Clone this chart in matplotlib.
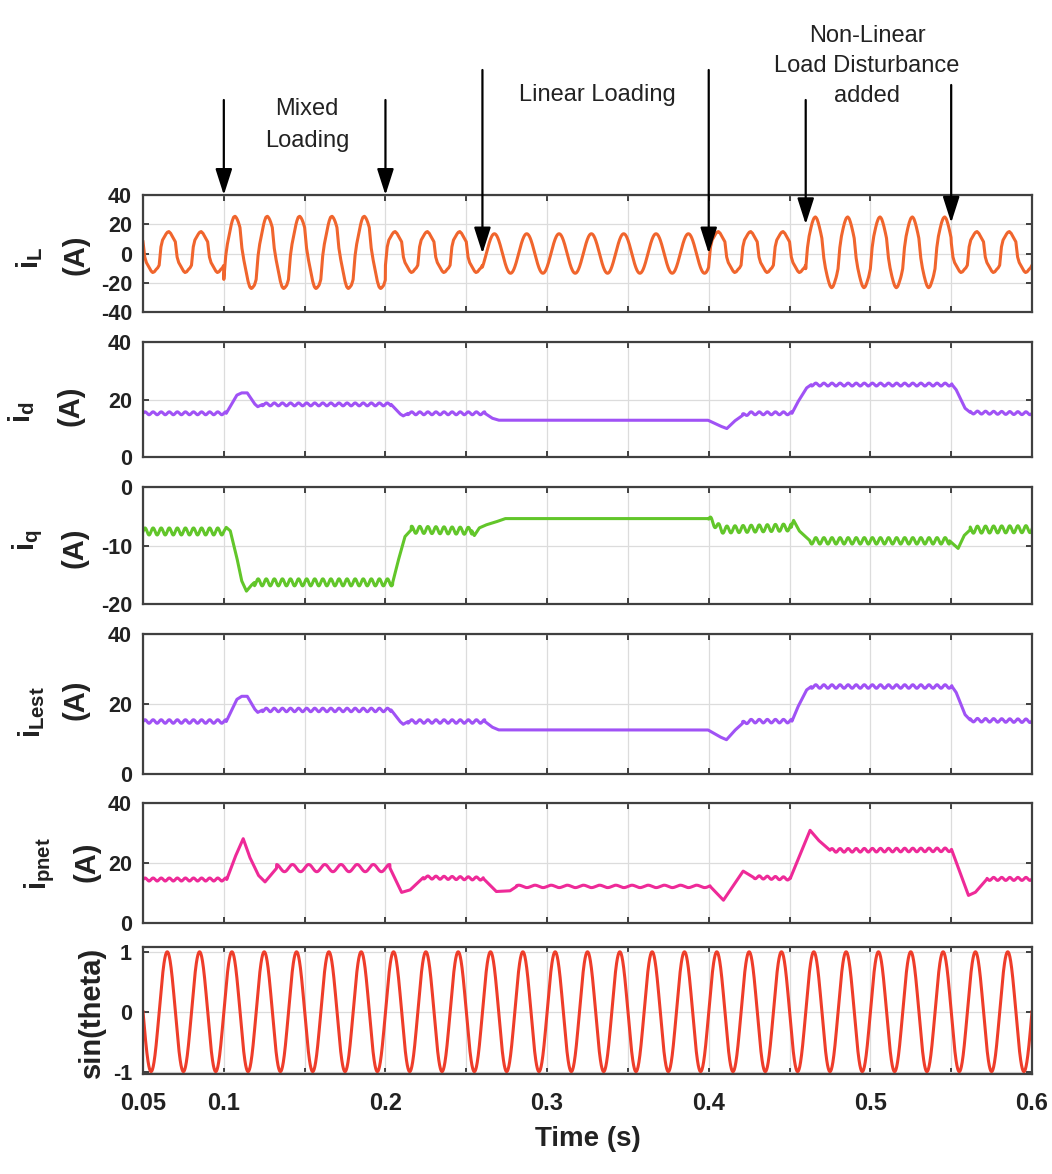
import numpy as np
import matplotlib
matplotlib.use("Agg")
import matplotlib.pyplot as plt
from matplotlib.ticker import FixedLocator, FixedFormatter

plt.rcParams["font.family"] = ["Liberation Sans", "DejaVu Sans"]
plt.rcParams["mathtext.fontset"] = "custom"
plt.rcParams["mathtext.rm"] = "Liberation Sans:bold"
plt.rcParams["mathtext.it"] = "Liberation Sans:bold"
plt.rcParams["mathtext.bf"] = "Liberation Sans:bold"

# ---- data -------------------------------------------------------------
T_START, T_END, DT = 0.05, 0.60, 0.0001
F_GRID = 50.0          # supply frequency (Hz)
SIN_AMP = 1.0

# rectifier load current over one cycle, 1 ms steps from the voltage zero crossing (A)
nl_shape = [-8, 4, 9, 11, 13, 14.5, 15, 14, 12, 10, 8, -2, -6, -8, -10, -12, -13, -12.5, -11, -10]

# loading intervals: nonlinear share, linear load peak (A) and its lag (ms)
load_edges = [0.05, 0.10, 0.20, 0.26, 0.40, 0.46, 0.55, 0.60]
nl_weight = [1.0, 1.0, 1.0, 0.0, 1.0, 0.8, 1.0]
lin_amp = [0.0, 12.0, 0.0, 13.5, 0.0, 13.0, 0.0]
lin_lag_ms = [0.0, 3.0, 0.0, 2.4, 0.0, 1.0, 0.0]

# d-axis current (A)
id_t = [0.05, 0.1015, 0.108, 0.111, 0.1145, 0.119, 0.121, 0.124, 0.2035, 0.209, 0.211,
        0.214, 0.2615, 0.266, 0.27, 0.3995, 0.407, 0.4112, 0.416, 0.421, 0.425, 0.4515,
        0.455, 0.4605, 0.4635, 0.5505, 0.553, 0.5585, 0.5618, 0.60]
id_v = [15.2, 15.2, 21.5, 22.3, 22.3, 18.5, 17.5, 18.3, 18.3, 15.0, 14.3,
        15.2, 15.2, 13.5, 12.8, 12.8, 10.8, 9.9, 12.5, 14.5, 15.2, 15.2,
        19.0, 24.0, 25.2, 25.2, 23.5, 17.0, 15.5, 15.2]
id_rip_edges = [0.05, 0.1015, 0.124, 0.2035, 0.214, 0.2615, 0.421, 0.4515, 0.4635, 0.5505, 0.5618, 0.60]
id_rip_amp = [0.5, 0.0, 0.5, 0.0, 0.5, 0.0, 0.5, 0.0, 0.5, 0.0, 0.5]
id_rip_freq = [200] * 11

# q-axis current (A)
iq_t = [0.05, 0.10, 0.1015, 0.104, 0.108, 0.111, 0.114, 0.117, 0.119, 0.2045, 0.2075,
        0.212, 0.216, 0.2535, 0.255, 0.258, 0.262, 0.268, 0.274, 0.3996, 0.405, 0.408,
        0.451, 0.4525, 0.456, 0.4627, 0.549, 0.5543, 0.558, 0.5618, 0.60]
iq_v = [-7.6, -7.6, -6.9, -7.5, -12.0, -16.0, -17.8, -16.8, -16.3, -16.3, -13.0,
        -8.5, -7.3, -7.5, -8.3, -7.0, -6.5, -6.0, -5.4, -5.4, -6.6, -7.3,
        -6.9, -5.7, -7.5, -9.2, -9.2, -10.5, -8.3, -7.3, -7.2]
iq_rip_edges = [0.05, 0.10, 0.119, 0.2045, 0.216, 0.2535, 0.40, 0.451, 0.4627, 0.549, 0.5618, 0.60]
iq_rip_amp = [0.6, 0.0, 0.6, 0.0, 0.6, 0.0, 0.6, 0.0, 0.55, 0.0, 0.6]
iq_rip_freq = [200] * 11

# estimated load current magnitude (A)
ilest_t = [0.05, 0.1015, 0.108, 0.111, 0.1145, 0.119, 0.121, 0.124, 0.2035, 0.209, 0.211,
           0.214, 0.2615, 0.266, 0.27, 0.3995, 0.407, 0.411, 0.416, 0.421, 0.425, 0.4515,
           0.455, 0.4605, 0.4635, 0.5505, 0.553, 0.5585, 0.5618, 0.60]
ilest_v = [15.0, 15.0, 21.3, 22.2, 22.2, 18.6, 17.6, 18.3, 18.3, 15.0, 14.2,
           15.0, 15.0, 13.4, 12.6, 12.6, 10.6, 9.8, 12.4, 14.5, 15.1, 15.1,
           19.0, 24.0, 25.0, 25.0, 23.4, 17.0, 15.4, 15.2]
ilest_rip_edges = id_rip_edges
ilest_rip_amp = [0.5, 0.0, 0.5, 0.0, 0.5, 0.0, 0.5, 0.0, 0.5, 0.0, 0.5]
ilest_rip_freq = [200] * 11

# net active current reference (A)
ipnet_t = [0.05, 0.1018, 0.107, 0.112, 0.116, 0.1214, 0.1255, 0.1327, 0.2028, 0.21, 0.2152,
           0.2235, 0.2606, 0.2686, 0.277, 0.2812, 0.4009, 0.4091, 0.4213, 0.4275, 0.4504,
           0.4627, 0.4679, 0.4751, 0.5503, 0.5607, 0.5649, 0.5722, 0.60]
ipnet_v = [14.5, 14.5, 22.0, 28.1, 22.0, 15.9, 13.7, 18.3, 18.3, 10.2, 11.0,
           15.2, 14.8, 10.5, 10.7, 12.2, 12.2, 7.6, 17.3, 15.3, 14.8,
           30.9, 27.6, 24.2, 24.4, 9.2, 10.2, 14.7, 14.7]
ipnet_rip_edges = [0.05, 0.1018, 0.1327, 0.2028, 0.2235, 0.2606, 0.2812, 0.4009, 0.4275, 0.4504,
                   0.4751, 0.5503, 0.5722, 0.60]
ipnet_rip_amp = [0.5, 0.0, 1.2, 0.0, 0.5, 0.0, 0.4, 0.0, 0.5, 0.0, 0.6, 0.0, 0.5]
ipnet_rip_freq = [200, 200, 100, 200, 200, 200, 100, 200, 200, 200, 200, 200, 200]

x_ticks = [0.05, 0.10, 0.15, 0.20, 0.25, 0.30, 0.35, 0.40, 0.45, 0.50, 0.55, 0.60]
x_tick_labels = ["0.05", "0.1", "", "0.2", "", "0.3", "", "0.4", "", "0.5", "", "0.6"]

# ---- signals -------------------------------------------------------------
t = np.arange(T_START, T_END + DT / 2, DT)


def ripple(edges, amps, freqs):
    out = np.zeros_like(t)
    for lo, hi, a, f in zip(edges[:-1], edges[1:], amps, freqs):
        m = (t >= lo) & (t <= hi)
        out[m] = a * np.sin(2 * np.pi * f * t[m])
    return out


phase_ms = np.mod(t * 1000.0, 1000.0 / F_GRID)
nl_part = np.interp(phase_ms, np.arange(len(nl_shape) + 1), nl_shape + [nl_shape[0]])
seg = np.clip(np.searchsorted(load_edges, t, side="right") - 1, 0, len(nl_weight) - 1)
i_load = (np.array(nl_weight)[seg] * nl_part
          + np.array(lin_amp)[seg]
          * np.sin(2 * np.pi * F_GRID * (t - np.array(lin_lag_ms)[seg] / 1000.0)))

i_d = np.interp(t, id_t, id_v) + ripple(id_rip_edges, id_rip_amp, id_rip_freq)
i_q = np.interp(t, iq_t, iq_v) + ripple(iq_rip_edges, iq_rip_amp, iq_rip_freq)
i_lest = np.interp(t, ilest_t, ilest_v) + ripple(ilest_rip_edges, ilest_rip_amp, ilest_rip_freq)
i_pnet = np.interp(t, ipnet_t, ipnet_v) + ripple(ipnet_rip_edges, ipnet_rip_amp, ipnet_rip_freq)
sin_theta = SIN_AMP * np.sin(2 * np.pi * F_GRID * t)

# ---- figure ---------------------------------------------------------------
W, H = 1052, 1174
fig = plt.figure(figsize=(W / 100, H / 100), dpi=100)
fig.patch.set_facecolor("white")

AX_LEFT, AX_RIGHT = 143, 1032

panels = [
    dict(y=i_load, color="#f0652d", top=195, bottom=312, ylim=(-40, 40),
         yticks=[-40, -20, 0, 20, 40],
         labels=[(r"$i_{L}$", 30, 258), ("(A)", 76, 255)]),
    dict(y=i_d, color="#a052f5", top=342, bottom=457, ylim=(0, 40),
         yticks=[0, 20, 40],
         labels=[(r"$i_{d}$", 22, 412), ("(A)", 70, 406)]),
    dict(y=i_q, color="#62c62a", top=487, bottom=604, ylim=(-20, 0),
         yticks=[-20, -10, 0],
         labels=[(r"$i_{q}$", 28, 540), ("(A)", 74, 548)]),
    dict(y=i_lest, color="#a052f5", top=634, bottom=774, ylim=(0, 40),
         yticks=[0, 20, 40],
         labels=[(r"$i_{Lest}$", 32, 712), ("(A)", 76, 700)]),
    dict(y=i_pnet, color="#ee2a98", top=803, bottom=923, ylim=(0, 40),
         yticks=[0, 20, 40],
         labels=[(r"$i_{pnet}$", 40, 864), ("(A)", 86, 862)]),
    dict(y=sin_theta, color="#ee3d2a", top=947, bottom=1074, ylim=(-1.04, 1.08),
         yticks=[-1, 0, 1],
         labels=[("sin(theta)", 92, 1012)]),
]

axes = []
for i, p in enumerate(panels):
    rect = [AX_LEFT / W, 1 - p["bottom"] / H, (AX_RIGHT - AX_LEFT) / W,
            (p["bottom"] - p["top"]) / H]
    ax = fig.add_axes(rect, sharex=axes[0] if axes else None)
    ax.plot(t, p["y"], color=p["color"], lw=2.2)
    ax.set_xlim(T_START, T_END)
    ax.set_ylim(*p["ylim"])
    ax.set_yticks(p["yticks"])
    ax.set_yticklabels([f"{v:g}" for v in p["yticks"]])
    ax.xaxis.set_major_locator(FixedLocator(x_ticks))
    ax.xaxis.set_major_formatter(FixedFormatter(x_tick_labels))
    ax.grid(True, color="#dcdcdc", lw=0.9)
    ax.set_axisbelow(True)
    ax.tick_params(direction="in", top=True, right=True, length=4.5, width=1.3,
                   color="#333333", labelsize=15.5, pad=8)
    ax.tick_params(axis="x", labelsize=17, pad=13)
    for lab in ax.get_yticklabels() + ax.get_xticklabels():
        lab.set_fontweight("bold")
        lab.set_color("#222222")
    for s in ax.spines.values():
        s.set_color("#404040")
        s.set_linewidth(1.6)
    if i < len(panels) - 1:
        ax.tick_params(axis="x", labelbottom=False)
    for text, x, y in p["labels"]:
        fig.text(x / W, 1 - y / H, text, rotation=90, ha="center", va="center",
                 fontsize=21, fontweight="bold", color="#222222")
    axes.append(ax)

axes[-1].set_xlabel("Time (s)", fontsize=20, fontweight="bold", color="#222222",
                    labelpad=8)

# ---- loading events -----------------------------------------------------------
ax_top = axes[0]
arrow_style = dict(arrowstyle="-|>,head_length=1.0,head_width=0.32", color="black",
                   lw=1.6, mutation_scale=16, shrinkA=0, shrinkB=0)
events = [(0.10, 40, 100), (0.20, 40, 100), (0.26, 0, 70),
          (0.40, 0, 70), (0.46, 20, 100), (0.55, 21, 85)]
for t_ev, tip, tail_row in events:
    ax_top.annotate("", xy=(t_ev, tip), xycoords="data",
                    xytext=(t_ev, H - tail_row), textcoords=("data", "figure pixels"),
                    arrowprops=arrow_style, annotation_clip=False)

notes = [("Mixed\nLoading", 307, 125, 1.55),
         ("Linear Loading", 597, 95, 1.2),
         ("Non-Linear\nLoad Disturbance\nadded", 867, 66, 1.45)]
for text, x, y, ls in notes:
    fig.text(x / W, 1 - y / H, text, ha="center", va="center", fontsize=17,
             color="#222222", linespacing=ls)

fig.savefig("out.png", dpi=100, facecolor="white")
